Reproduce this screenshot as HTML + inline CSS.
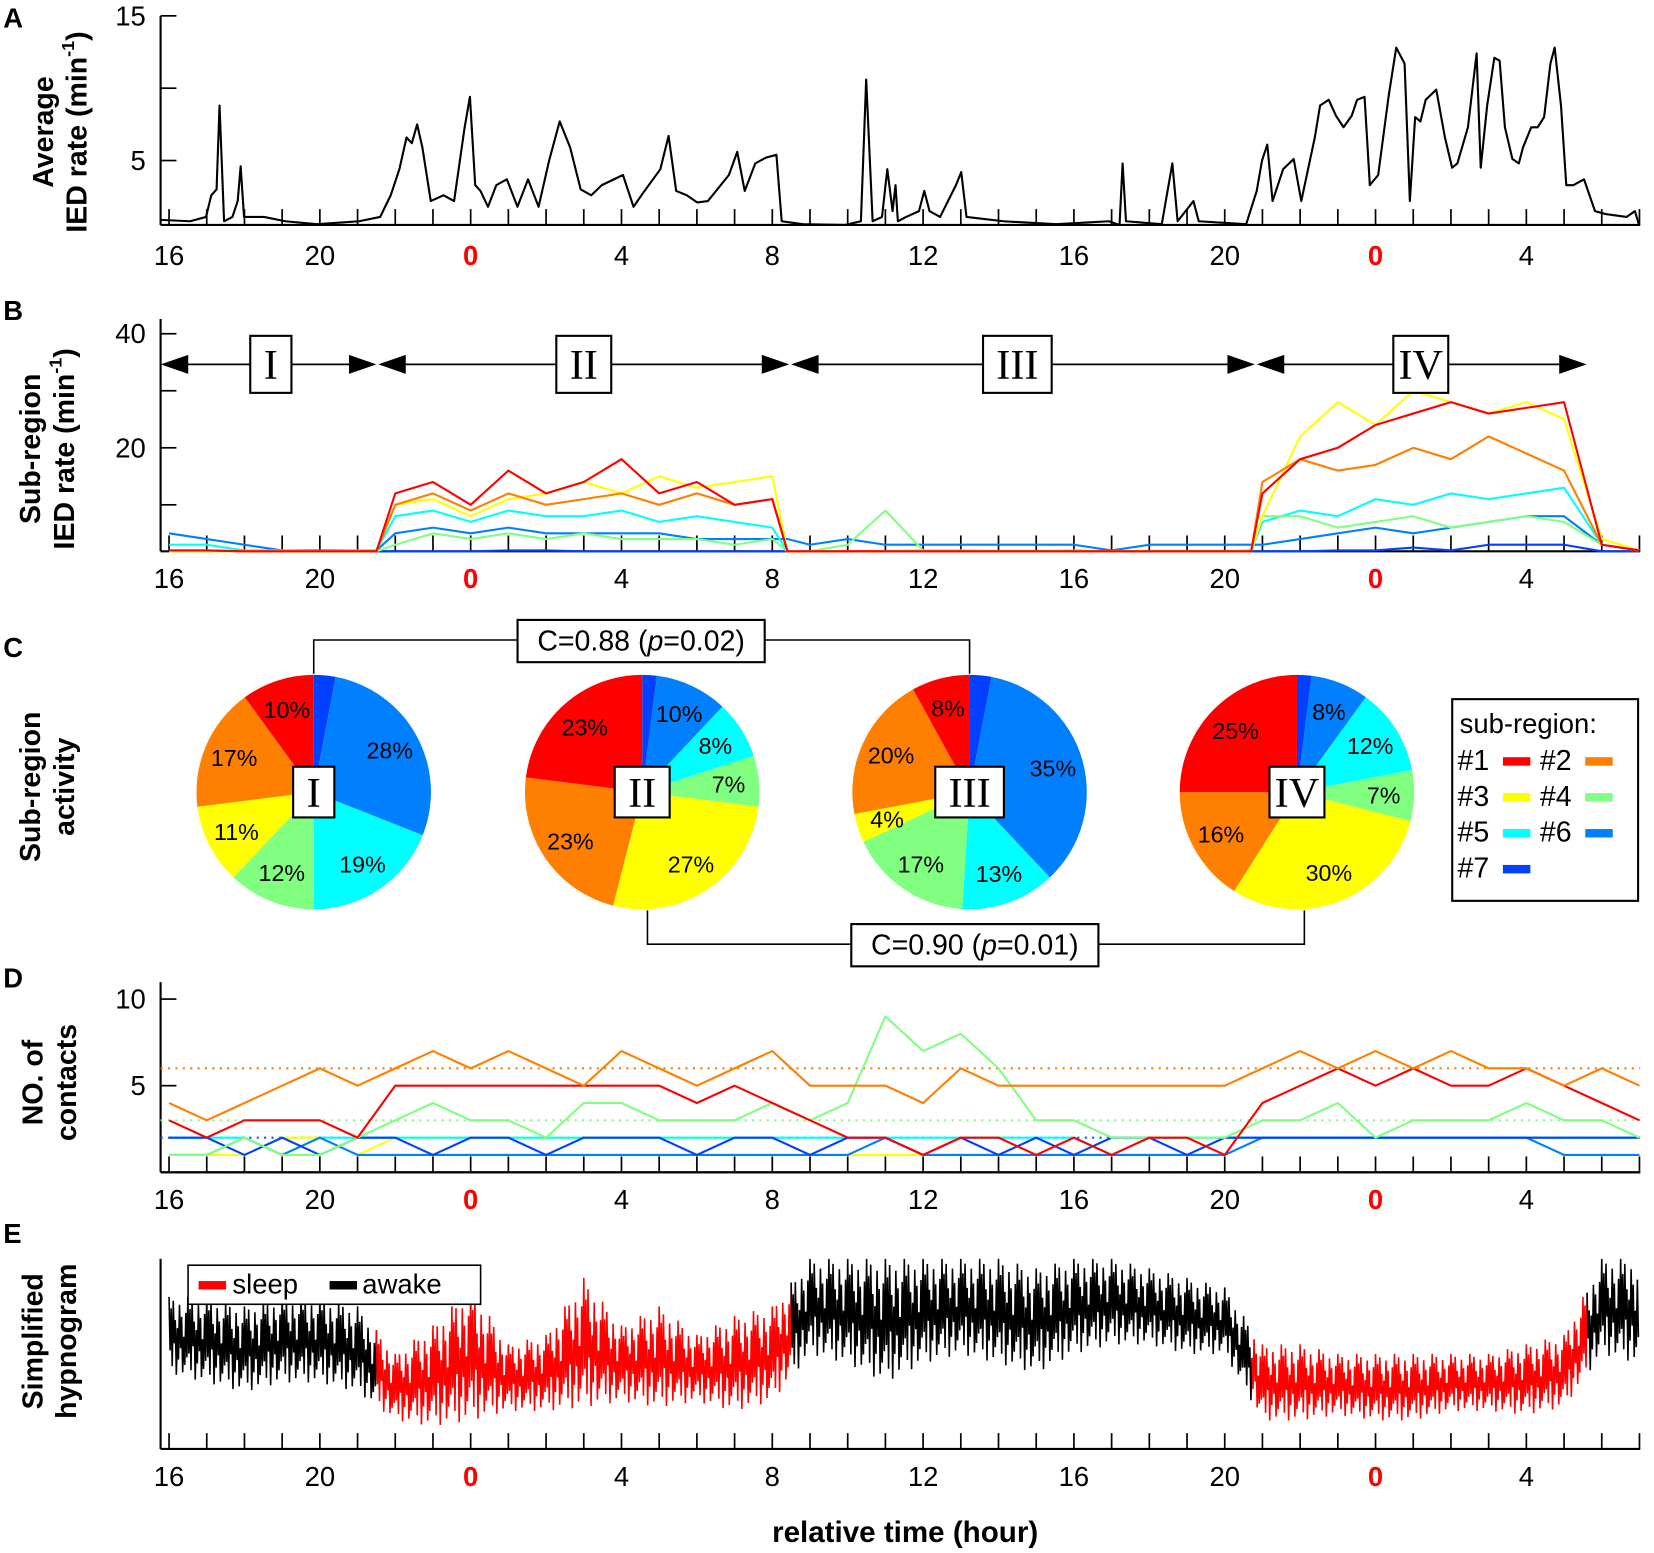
<!DOCTYPE html>
<html><head><meta charset="utf-8"><style>
html,body{margin:0;padding:0;background:#fff}
svg{display:block;font-family:"Liberation Sans",Arial,sans-serif}
</style></head><body>
<svg id="fig" width="1654" height="1553" viewBox="0 0 1566 1470.5" xmlns="http://www.w3.org/2000/svg"></svg>
<script>
// ---------- DATA ----------
const hourLabels=["16","20","0","4","8","12","16","20","0","4"];
const hourLabelT=[0,4,8,12,16,20,24,28,32,36];
// Panel A average IED rate (time in hours since 16:00, value per min)
const aTime=[-0.22,0.56,0.98,1.12,1.26,1.34,1.46,1.68,1.82,1.90,1.99,2.52,3.08,3.92,5.04,5.60,5.88,6.11,6.30,6.44,6.58,6.72,6.94,7.28,7.56,7.84,7.98,8.12,8.26,8.46,8.68,8.96,9.24,9.52,9.80,10.08,10.36,10.64,10.92,11.20,11.48,12.04,12.32,12.61,13.03,13.25,13.45,13.73,14.01,14.29,14.85,15.07,15.27,15.55,15.83,16.11,16.25,16.81,17.93,18.35,18.49,18.66,18.91,19.05,19.19,19.27,19.33,19.55,19.89,20.03,20.17,20.45,20.87,21.01,21.15,22.13,23.53,24.93,25.21,25.29,25.38,26.33,26.61,26.75,27.17,27.31,28.57,28.85,28.99,29.13,29.27,29.55,29.83,30.03,30.39,30.53,30.76,30.95,31.15,31.37,31.51,31.71,31.85,32.07,32.35,32.55,32.77,32.91,33.05,33.19,33.33,33.61,33.84,34.03,34.17,34.45,34.68,34.79,34.96,35.15,35.29,35.43,35.63,35.80,35.91,36.13,36.30,36.47,36.64,36.75,36.92,37.06,37.25,37.53,37.82,38.10,38.66,38.88,38.99];
const aRate=[0.9,0.8,1.1,2.6,3.0,8.8,0.8,1.1,2.2,4.6,1.1,1.1,0.8,0.6,0.8,1.1,2.6,4.4,6.6,6.2,7.5,5.9,2.2,2.6,2.2,7.3,9.4,3.3,2.9,1.8,3.3,3.7,1.8,3.7,1.8,5.0,7.7,5.9,3.0,2.6,3.3,4.0,1.8,2.9,4.4,6.7,2.9,2.6,2.1,2.2,4.0,5.6,2.9,4.8,5.2,5.4,0.8,0.6,0.55,0.8,10.6,0.8,1.1,4.4,1.5,3.3,0.8,1.1,1.5,2.9,1.5,1.1,3.3,4.2,1.1,0.8,0.6,0.8,0.55,4.8,0.8,0.6,4.8,0.8,2.2,0.8,0.6,2.9,5.0,6.1,2.2,4.4,5.1,2.2,6.6,8.8,9.2,8.1,7.3,8.1,9.2,9.4,3.3,4.0,9.5,12.8,11.7,2.2,8.0,7.7,9.2,9.9,6.6,4.5,4.8,7.3,12.4,4.5,8.8,12.1,11.9,7.3,5.1,4.8,5.9,7.3,7.3,8.0,11.7,12.8,8.8,3.3,3.3,3.7,1.5,1.3,1.1,1.5,0.55];
// Panel B sub-region rates at these times
const bTime=[0,1,2,3,4,5,5.5,6,7,8,9,10,11,12,13,14,15,16,16.4,17,18,19,20,21,22,23,24,25,26,27,28,28.7,29,30,31,32,33,34,35,36,37,38,39];
const bSub1=[2,2,1.5,1,1,1,1.5,12,14,10,16,12,14,18,12,14,10,11,1.5,1,1,1,1,1,1,1,1,1,1,1,1,1.5,12,18,20,24,26,28,26,27,28,3,2];
const bSub2=[2,2,1.5,1,1,1,1.5,10,12,9,12,10,11,12,10,12,10,11,1.5,1,1,1,1,1,1.5,1,1,1,1,1,1.5,1.5,14,18,16,17,20,18,22,19,16,3,2];
const bSub3=[1.5,1.5,1,1,1,1,1.5,10,11,8,11,12,14,12,15,13,14,15,1.5,1,1,1,1,1,1,1,1,1,1,1,1,1.5,8,22,28,24,30,28,26,28,25,4,2];
const bSub4=[1,1,1,1,1,1,1,3,5,4,5,4,5,4,4,4,3,4,1,1,3,9,2,2,1.5,1.5,1.5,1.5,1,1,1,1,8,8,6,7,8,6,7,8,7,3,2];
const bSub5=[3,3,2,2,1.5,2,2,8,9,7,9,8,8,9,7,8,7,6,1.5,1.5,1.5,1.5,2,2,1.5,1.5,2,1.5,1.5,1.5,1.5,2,7,9,8,11,10,12,11,12,13,3,2];
const bSub6=[5,4,3,2,2,2,2,5,6,5,6,5,5,5,5,4,4,4,4,3,4,3,3,3,3,3,3,2,3,3,3,3,3,4,5,6,5,6,7,8,8,3,2];
const bSub7=[1,1,1,1,1,1,1,1,1.5,1,2,2,1.5,1.5,1.5,1,1.5,1,1,1,1,1,1,1,1,1,1,1,1,1,1,1,1,1.5,2,2,2.5,2,3,3,3,1,1];
// Panel C pie percentages, order #1..#7
const pieI=[10,17,11,12,19,28,3];
const pieII=[23,23,27,7,8,10,2];
const pieIII=[8,20,4,17,13,35,3];
const pieIV=[25,16,30,7,12,8,2];
const pieNames=["I","II","III","IV"];
// Panel D contacts hourly
const dSub1=[3,2,3,3,3,2,5,5,5,5,5,5,5,5,4,5,4,3,2,2,1,2,2,1,2,1,2,2,1,4,5,6,5,6,5,5,6,5,4,3];
const dSub2=[4,3,4,5,6,5,6,7,6,7,6,5,7,6,5,6,7,5,5,5,4,6,5,5,5,5,5,5,5,6,7,6,7,6,7,6,6,5,6,5];
const dSub3=[1,1,1,2,2,1,2,2,2,2,2,2,2,2,2,2,2,1,1,1,1,1,1,1,1,1,1,1,1,2,2,2,2,2,2,2,2,2,2,2];
const dSub4=[1,1,2,1,1,2,3,4,3,3,2,4,4,3,3,3,4,3,4,9,7,8,6,3,3,2,2,2,2,3,3,4,2,3,3,3,4,3,3,2];
const dSub5=[2,2,2,1,2,2,2,2,2,2,2,2,2,2,2,2,2,2,2,2,2,2,2,2,2,1,2,2,2,2,2,2,2,2,2,2,2,2,2,2];
const dSub6=[1,1,2,1,2,1,1,1,1,1,1,1,1,1,1,1,1,1,1,2,1,1,1,1,1,1,1,1,1,2,2,2,2,2,2,2,2,1,1,1];
const dSub7=[2,2,1,2,1,2,2,1,2,2,1,2,2,2,1,2,2,1,2,2,1,2,1,2,1,2,2,1,2,2,2,2,2,2,2,2,2,2,2,2];
const dThresh2=6, dThresh4=3, dThresh6=2;
// Panel E hypnogram hourly band (level 0..10) and state switch times
const hypHigh=[8,8,7.5,8,8,7.5,5,6.5,8.5,5.5,6,9,6.5,7.5,6,7,7.5,10,10,10,10,10,10,9.5,10,10,9.5,9,8.5,5.5,5.5,5,5,5,5,5,5.5,6,10,10];
const hypLow=[4,3.5,3,3.5,3.5,3,1.5,1.2,1.5,2,2,2.2,2.5,2.2,2.5,2,2.5,5,4.5,3.5,4.5,5,4.5,4,5,5.5,5.5,5,5,1.5,1.5,1.8,1.5,1.5,2,2,1.8,2.2,5,4.5];
const hypSwitch=[5.5,16.5,28.7,37.6]; // awake -> sleep -> awake -> sleep -> awake

const COL=["#ff0000","#ff7f00","#ffff00","#80ff80","#00ffff","#0080ff","#0040ff"];
// ---------- HELPERS ----------
const svg=document.getElementById('fig');const NS="http://www.w3.org/2000/svg";
function mk(tag,attrs,parent){const e=document.createElementNS(NS,tag);for(const k in attrs)e.setAttribute(k,attrs[k]);(parent||svg).appendChild(e);return e;}
function txt(s,x,y,size,attrs,parent){const e=mk('text',Object.assign({x:x,y:y,'font-size':size},attrs||{}),parent);e.textContent=s;return e;}
const X=t=>160+35.7*t;
function xAxis(base,labelY,name){
  const g=mk('g',{});
  
  
  mk('line',{x1:152,y1:base,x2:1553,y2:base,stroke:'#000','stroke-width':2},g);
  for(let h=0;h<=39;h++){mk('line',{x1:X(h),y1:base,x2:X(h),y2:base-15,stroke:'#000','stroke-width':1.6},g);}
  hourLabels.forEach((l,i)=>{const red=l==="0";const t=txt(l,X(hourLabelT[i]),labelY,26,{'text-anchor':'middle',fill:red?'#f00':'#000','font-weight':red?'bold':'normal'},g);
    
    });
}
function yAxis(top,base,ticks,name){
  const g=mk('g',{});
  
  
  mk('line',{x1:152,y1:top,x2:152,y2:base,stroke:'#000','stroke-width':2},g);
  ticks.forEach(tk=>{mk('line',{x1:152,y1:tk[0],x2:167,y2:tk[0],stroke:'#000','stroke-width':1.6},g);
    if(tk[1]){const t=txt(tk[1],138,tk[0]+9,26,{'text-anchor':'end'},g);
      
      }});
}
function ylabel(lines,cx,cy,name){
  const g=mk('g',{transform:`translate(${cx},${cy}) rotate(-90)`});
  
  
  lines.forEach((l,i)=>{const t=mk('text',{x:0,y:i*32,'font-size':27,'font-weight':'bold','text-anchor':'middle'},g);t.innerHTML=l;});
}
function letter(s,y){const t=txt(s,3,y,26,{'font-weight':'bold'});
  
  }
function poly(ts,vs,fy,color,w,name){const pts=ts.map((t,i)=>X(t).toFixed(1)+','+fy(vs[i]).toFixed(1)).join(' ');
  const p=mk('polyline',{points:pts,fill:'none',stroke:color,'stroke-width':w,'stroke-linejoin':'round'});
  
  return p;}
const hours=Array.from({length:40},(_,i)=>i);

// ---------- PANEL A ----------
letter('A',26);
ylabel(['Average','IED rate (min<tspan font-size="17" dy="-12">-1</tspan><tspan dy="12">)</tspan>'],50,125,'y-axis-title-a');
const yA=v=>220.5-13.7*v;
yAxis(15,213,[[yA(15),'15'],[yA(10),''],[yA(5),'5']],'panel-a');
xAxis(213,251,'panel-a');
poly(aTime,aRate,yA,'#000',2,'average-ied-line');

// ---------- PANEL B ----------
letter('B',303);
ylabel(['Sub-region','IED rate (min<tspan font-size="17" dy="-12">-1</tspan><tspan dy="12">)</tspan>'],38,425,'y-axis-title-b');
const yB=v=>532-5.4*v;
yAxis(302,522,[[yB(40),'40'],[yB(30),''],[yB(20),'20'],[yB(10),'']],'panel-b');
xAxis(522,557,'panel-b');
const bS=[bSub1,bSub2,bSub3,bSub4,bSub5,bSub6,bSub7];
[6,5,4,3,2,1,0].forEach(i=>poly(bTime,bS[i],v=>Math.min(yB(v),522),COL[i],2,'sub-region-'+(i+1)+'-rate'));
const periods=[[-0.22,5.5,'I',2.7],[5.55,16.45,'II',11],[16.5,28.8,'III',22.5],[28.85,37.6,'IV',33.2]];
periods.forEach(p=>{const g=mk('g',{});
  
  
  const x1=X(p[0]),x2=X(p[1]),y=345;
  mk('line',{x1:x1+10,y1:y,x2:x2-10,y2:y,stroke:'#000','stroke-width':1.6},g);
  mk('polygon',{points:`${x1},${y} ${x1+26},${y-9} ${x1+26},${y+9}`,fill:'#000'},g);
  mk('polygon',{points:`${x2},${y} ${x2-26},${y-9} ${x2-26},${y+9}`,fill:'#000'},g);
  const bw=p[2].length*13+26,cx=X(p[3]);
  mk('rect',{x:cx-bw/2,y:y-27,width:bw,height:54,fill:'#fff',stroke:'#000','stroke-width':2},g);
  txt(p[2],cx,y+14,40,{'text-anchor':'middle','font-family':'"Liberation Serif",serif'},g);
});

// ---------- PANEL C ----------
letter('C',622);
ylabel(['Sub-region','activity'],38,745,'y-axis-title-c');
const pies=[pieI,pieII,pieIII,pieIV];const pcx=[297,608,918,1228],pcy=750,R=111;
pies.forEach((d,pi)=>{const g=mk('g',{});
  
  
  const tot=d.reduce((a,b)=>a+b,0);let a=-Math.PI/2;const cx=pcx[pi];
  for(let k=6;k>=0;k--){const sw=d[k]/tot*2*Math.PI;const a2=a+sw;
    const x1=cx+R*Math.cos(a),y1=pcy+R*Math.sin(a),x2=cx+R*Math.cos(a2),y2=pcy+R*Math.sin(a2);
    const s=mk('path',{d:`M${cx},${pcy} L${x1},${y1} A${R},${R} 0 ${sw>Math.PI?1:0} 1 ${x2},${y2} Z`,fill:COL[k]},g);
    
    
    if(k<6&&d[k]>=4){const m=(a+a2)/2;const rr=0.74*R;
      txt(d[k]+'%',cx+rr*Math.cos(m),pcy+rr*Math.sin(m)+8,22,{'text-anchor':'middle'},g);}
    a=a2;}
  const nm=pieNames[pi];const bw=nm.length*13+26;
  mk('rect',{x:cx-bw/2,y:pcy-24,width:bw,height:48,fill:'#fff',stroke:'#000','stroke-width':2},g);
  txt(nm,cx,pcy+14,40,{'text-anchor':'middle','font-family':'"Liberation Serif",serif'},g);
});
function conn(xa,xb,ya,yb,label,cx,name){const g=mk('g',{});
  
  
  mk('polyline',{points:`${xa},${ya} ${xa},${yb} ${xb},${yb} ${xb},${ya}`,fill:'none',stroke:'#000','stroke-width':1.5},g);
  mk('rect',{x:cx-117,y:yb-19,width:234,height:40,fill:'#fff',stroke:'#000','stroke-width':2},g);
  const t=mk('text',{x:cx,y:yb+10,'font-size':27,'text-anchor':'middle'},g);t.innerHTML=label;}
conn(297,918,638,606,'C=0.88 (<tspan font-style="italic">p</tspan>=0.02)',607,'correlation-i-iii');
conn(613,1235,862,894,'C=0.90 (<tspan font-style="italic">p</tspan>=0.01)',923,'correlation-ii-iv');
const lg=mk('g',{});


mk('rect',{x:1375,y:662,width:176,height:191,fill:'#fff',stroke:'#000','stroke-width':2},lg);
txt('sub-region:',1382,694,26,{},lg);
for(let k=0;k<7;k++){const col=k%2,row=Math.floor(k/2);const x0=1380+col*78,y0=729+row*34;
  txt('#'+(k+1),x0,y0,27,{},lg);
  mk('rect',{x:x0+43,y:y0-12,width:26,height:8,fill:COL[k]},lg);}

// ---------- PANEL D ----------
letter('D',935);
ylabel(['NO. of','contacts'],40,1025,'y-axis-title-d');
const yD=v=>1110-16.4*v;
yAxis(930,1110,[[yD(10),'10'],[yD(5),'5']],'panel-d');
[[dThresh2,COL[1]],[dThresh4,COL[3]],[dThresh6,'#0060ff']].forEach(th=>{const l=mk('line',{x1:152,y1:yD(th[0]),x2:1553,y2:yD(th[0]),stroke:th[1],'stroke-width':2,'stroke-dasharray':'2,5'});
  
  });
const dS=[dSub1,dSub2,dSub3,dSub4,dSub5,dSub6,dSub7];
[2,4,5,6,3,0,1].forEach(i=>poly(hours,dS[i],v=>Math.min(yD(v),1108),COL[i],2,'sub-region-'+(i+1)+'-contacts'));
mk('line',{x1:152,y1:1110,x2:1553,y2:1110,stroke:'#000','stroke-width':2});
xAxis(1110,1145,'panel-d');

// ---------- PANEL E ----------
letter('E',1177);
ylabel(['Simplified','hypnogram'],40,1270,'y-axis-title-e');
const yE=v=>1372-18*v;
mk('line',{x1:152,y1:1192,x2:152,y2:1372,stroke:'#000','stroke-width':2});
const pat=[1,0.3,0.85,0.1,0.95,0.4,0.7,0,0.6,0.2,0.9,0.35,0.75,0.05,0.5,0.15,0.8,0.25];
const SUB=36;
function stateAt(t){let s=1;hypSwitch.forEach(w=>{if(t>=w)s=1-s;});return s;}
let segs=[];
for(let h=0;h<39;h++){for(let k=0;k<SUB;k++){const f=k/SUB;const t=h+f;
  const lo=hypLow[h]+(hypLow[h+1]-hypLow[h])*f,hi=hypHigh[h]+(hypHigh[h+1]-hypHigh[h])*f;
  segs.push([t,lo+(hi-lo)*pat[(h*SUB+k)%pat.length],stateAt(t)]);}}
let cur=null,pts=[];
function flush(){if(pts.length>1){const p=mk('polyline',{points:pts.join(' '),fill:'none',stroke:cur?'#000':'#f00','stroke-width':1.5});
  
  }}
segs.forEach(s=>{const pp=X(s[0]).toFixed(1)+','+yE(s[1]).toFixed(1);if(s[2]!==cur){if(pts.length){pts.push(pp);flush();}cur=s[2];pts=[pp];}else pts.push(pp);});
flush();
const el=mk('g',{});


mk('rect',{x:178,y:1198,width:277,height:37,fill:'#fff',stroke:'#000','stroke-width':1.5},el);
mk('rect',{x:188,y:1213,width:26,height:8,fill:'#f00'},el);
txt('sleep',220,1225,26,{},el);
mk('rect',{x:312,y:1213,width:26,height:8,fill:'#000'},el);
txt('awake',343,1225,26,{},el);
xAxis(1372,1407,'panel-e');
const xt=txt('relative time (hour)',857,1460,28,{'text-anchor':'middle','font-weight':'bold'});


</script>
</body></html>
